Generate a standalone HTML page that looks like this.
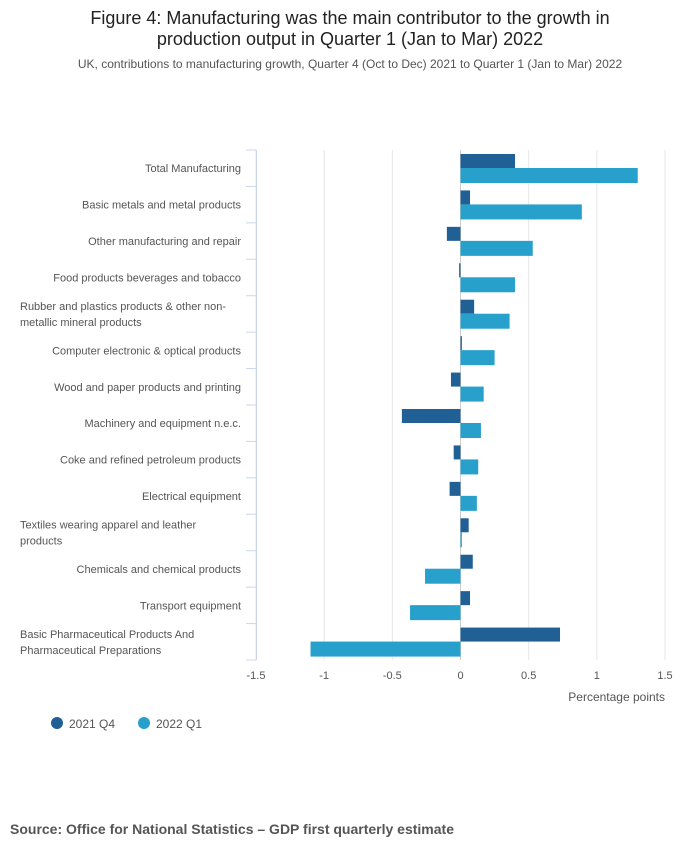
<!DOCTYPE html>
<html><head><meta charset="utf-8"><style>
body{margin:0;background:#fff;font-family:"Liberation Sans",sans-serif;}
#wrap{position:relative;width:700px;height:857px;}
.t{position:absolute;left:0;width:700px;text-align:center;}
</style></head><body>
<div id="wrap">
<div class="t" style="top:8px;font-size:18px;color:#222;line-height:21px;">Figure 4: Manufacturing was the main contributor to the growth in<br>production output in Quarter 1 (Jan to Mar) 2022</div>
<div class="t" style="top:57px;font-size:12px;color:#555;">UK, contributions to manufacturing growth, Quarter 4 (Oct to Dec) 2021 to Quarter 1 (Jan to Mar) 2022</div>
<svg id="chart" width="700" height="857" style="position:absolute;left:0;top:0"></svg>
<div style="position:absolute;left:10px;top:821px;font-size:14px;font-weight:bold;color:#555;">Source: Office for National Statistics – GDP first quarterly estimate</div>
</div>
<script>
const categories=["Total Manufacturing","Basic metals and metal products","Other manufacturing and repair","Food products beverages and tobacco","Rubber and plastics products & other non-|metallic mineral products","Computer electronic & optical products","Wood and paper products and printing","Machinery and equipment n.e.c.","Coke and refined petroleum products","Electrical equipment","Textiles wearing apparel and leather|products","Chemicals and chemical products","Transport equipment","Basic Pharmaceutical Products And|Pharmaceutical Preparations"];
const q4=[0.40,0.07,-0.10,-0.01,0.10,0.01,-0.07,-0.43,-0.05,-0.08,0.06,0.09,0.07,0.73];
const q1=[1.30,0.89,0.53,0.40,0.36,0.25,0.17,0.15,0.13,0.12,0.01,-0.26,-0.37,-1.10];
const ticks=[-1.5,-1,-0.5,0,0.5,1,1.5];
const tickLabels=["-1.5","-1","-0.5","0","0.5","1","1.5"];
const svg=document.getElementById('chart');const NS="http://www.w3.org/2000/svg";
const x0=256,x1=665,vmin=-1.5,vmax=1.5,yTop=150,yBot=660;
const xs=v=>x0+(v-vmin)/(vmax-vmin)*(x1-x0);
const band=(yBot-yTop)/categories.length;
function mk(t,a,p){const e=document.createElementNS(NS,t);for(const k in a)e.setAttribute(k,a[k]);(p||svg).appendChild(e);return e;}
ticks.forEach((t,i)=>{
 const g=mk('line',{x1:xs(t),x2:xs(t),y1:yTop,y2:yBot,stroke:t===0?'#ccc':'#e6e6e6','stroke-width':1});
 
 
 const l=mk('text',{x:xs(t),y:679,'text-anchor':'middle','font-size':11,fill:'#555'});l.textContent=tickLabels[i];
 
 
});
const ax=mk('line',{x1:x0+0.5,x2:x0+0.5,y1:yTop,y2:yBot,stroke:'#ccd6eb'});


for(let i=0;i<=categories.length;i++){const y=yTop+i*band;mk('line',{x1:x0-10,x2:x0,y1:y,y2:y,stroke:'#ccd6eb'});}
categories.forEach((c,i)=>{
 const yc=yTop+i*band;
 const parts=c.split('|');
 const tx=parts.length>1?20:241;
 const txt=mk('text',{x:tx,'text-anchor':parts.length>1?'start':'end','font-size':11,fill:'#555'});
 
 
 parts.forEach((p,j)=>{const ts=mk('tspan',{x:tx,y:yc+band/2+4+(parts.length>1?(j-0.5)*16:0)},txt);ts.textContent=p;});
 const b1=mk('rect',{x:Math.min(xs(0),xs(q4[i])),y:yc+4,width:Math.max(1,Math.abs(xs(q4[i])-xs(0))),height:14,fill:'#206095'});
 
 
 const b2=mk('rect',{x:Math.min(xs(0),xs(q1[i])),y:yc+18,width:Math.max(1,Math.abs(xs(q1[i])-xs(0))),height:15,fill:'#27a0cc'});
 
 
});
const at=mk('text',{x:665,y:701,'text-anchor':'end','font-size':12,fill:'#555'});at.textContent="Percentage points";


[["2021 Q4","#206095",57],["2022 Q1","#27a0cc",144]].forEach(l=>{
 const c=mk('circle',{cx:l[2],cy:723,r:6,fill:l[1]});
 
 
 const t=mk('text',{x:l[2]+12,y:728,'font-size':12,fill:'#555'});t.textContent=l[0];
 
 
});
</script>
</body></html>
